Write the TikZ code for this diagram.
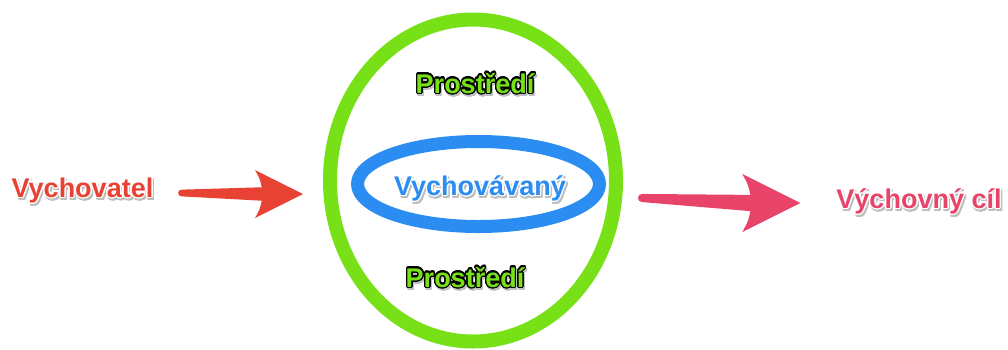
\documentclass[tikz,border=0pt]{standalone}
\usepackage{fontspec}
\setmainfont{Liberation Sans}
\usepackage{contour}
\contourlength{1.4pt}
\contournumber{24}
\usetikzlibrary{shapes.geometric, calc, positioning}
\definecolor{edured}{HTML}{E84235}
\definecolor{edupink}{HTML}{E8446A}
\definecolor{envgreen}{HTML}{78E016}
\definecolor{kidblue}{HTML}{2B8CF2}

% coloured word with halo and soft drop shadow
\newcommand{\glowtext}[3]{%
  \rlap{\hspace*{1.3pt}\raisebox{-2.4pt}{\textcolor{black!25}{\contour{black!25}{#3}}}}%
  \textcolor{#1}{\contour{#2}{#3}}}

\begin{document}
\begin{tikzpicture}[
    x=1pt, y=-1pt,
    tagtext/.style={inner sep=0, anchor=base, font=\fontsize{27}{32}\selectfont\bfseries},
    ring/.style={draw, ellipse, inner sep=0, outer sep=0.5\pgflinewidth},
    fatarrow/.style={fill, to path={
      let \p1=(\tikztostart), \p2=(\tikztotarget) in
      (\x1,\y1+0.07*#1pt)
      -- (\x2-0.86*#1pt,\y2+0.14*#1pt)
      .. controls (\x2-0.9*#1pt,\y2+0.32*#1pt) .. (\x2-#1pt,\y2+0.5*#1pt)
      -- (\x2,\y2)
      -- (\x2-#1pt,\y2-0.5*#1pt)
      .. controls (\x2-0.9*#1pt,\y2-0.32*#1pt) .. (\x2-0.86*#1pt,\y2-0.14*#1pt)
      -- (\x1,\y1-0.07*#1pt)
      arc[start angle=270, end angle=90, radius=0.07*#1pt] -- cycle}}
]
\useasboundingbox (0,0) rectangle (1008,349);

% Rings
\node[ring, draw=envgreen, line width=14pt, minimum width=286pt, minimum height=322pt] (env) at (473,180.5) {};
\node[ring, draw=kidblue, line width=13pt, minimum width=242pt, minimum height=85pt] (kid) at (478.5,184) {};

% Texts
\node[tagtext] (kidlbl) at (480,195) {\glowtext{kidblue}{white}{Vychovávaný}};
\node[tagtext] (envtop) at (475,93) {\contourlength{1.2pt}\glowtext{envgreen}{black}{Prostředí}};
\node[tagtext] (envbot) at (465,287) {\contourlength{1.2pt}\glowtext{envgreen}{black}{Prostředí}};
\node[tagtext] (teacher) at (82.5,197) {\glowtext{edured}{white}{Vychovatel}};
\node[tagtext] (goal) at (919,208) {\glowtext{edupink}{white}{Výchovný cíl}};

% Arrows
\path[fatarrow=48, edured] ([xshift=28pt, yshift=4pt]teacher.base east) to ([xshift=-20pt, yshift=-13.5pt]env.west);
\path[fatarrow=58, edupink] ([xshift=19pt, yshift=-17.5pt]env.east) to ([xshift=-36pt, yshift=5pt]goal.base west);

\end{tikzpicture}
\end{document}
